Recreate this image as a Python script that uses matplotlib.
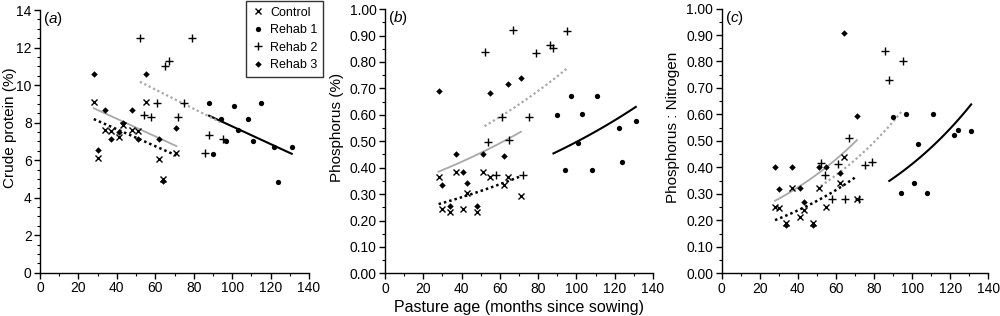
import numpy as np
import matplotlib
matplotlib.use("Agg")
import matplotlib.pyplot as plt
from matplotlib.lines import Line2D

plt.rcParams['font.family'] = ['Liberation Sans', 'DejaVu Sans']
plt.rcParams['mathtext.fontset'] = 'custom'
plt.rcParams['mathtext.rm'] = 'Liberation Sans'
plt.rcParams['mathtext.it'] = 'Liberation Sans:italic'

# ---------------- data ----------------
control_x = [28, 30, 34, 37, 41, 43, 48, 51, 55, 62, 64, 71]
control_cp = [9.08, 6.13, 7.63, 7.54, 7.22, 7.85, 7.63, 7.54, 9.08, 6.04, 5.0, 6.39]
control_p = [0.366, 0.243, 0.233, 0.382, 0.242, 0.303, 0.233, 0.382, 0.363, 0.334, 0.366, 0.294]
control_pn = [0.251, 0.245, 0.191, 0.321, 0.211, 0.239, 0.191, 0.321, 0.251, 0.342, 0.440, 0.280]

rehab1_x_cp = [88, 90, 94, 97, 101, 103, 108, 111, 115, 122, 124, 131]
rehab1_cp = [9.03, 6.34, 8.21, 7.01, 8.91, 7.63, 8.21, 7.01, 9.03, 6.71, 4.84, 6.71]
rehab1_x_p = [90, 94, 97, 101, 103, 108, 111, 122, 124, 131]
rehab1_p = [0.599, 0.393, 0.672, 0.494, 0.603, 0.393, 0.672, 0.552, 0.422, 0.577]
rehab1_pn = [0.589, 0.302, 0.600, 0.342, 0.490, 0.302, 0.600, 0.521, 0.540, 0.537]

rehab2_x = [52, 54, 58, 61, 65, 67, 72, 75, 79, 86, 88, 95]
rehab2_cp = [12.5, 8.42, 8.28, 9.03, 11.02, 11.27, 8.28, 9.03, 12.5, 6.36, 7.33, 7.13]
rehab2_p = [0.839, 0.498, 0.372, 0.593, 0.504, 0.923, 0.372, 0.593, 0.835, 0.864, 0.854, 0.917]
rehab2_pn = [0.417, 0.371, 0.280, 0.412, 0.280, 0.512, 0.280, 0.411, 0.421, 0.839, 0.729, 0.803]

rehab3_x = [28, 30, 34, 37, 41, 43, 48, 51, 55, 62, 64, 71]
rehab3_cp = [10.62, 6.53, 8.68, 7.15, 7.48, 7.98, 8.68, 7.15, 10.62, 7.15, 4.9, 7.71]
rehab3_p = [0.690, 0.334, 0.255, 0.451, 0.382, 0.343, 0.255, 0.451, 0.683, 0.444, 0.715, 0.738]
rehab3_pn = [0.402, 0.318, 0.182, 0.402, 0.321, 0.270, 0.182, 0.402, 0.402, 0.380, 0.909, 0.595]

# fitted trend lines: [x_start, x_end], [y_start, y_end]
trend_cp = {
    'Control': ([28, 71], [8.19, 6.25]),
    'Rehab 1': ([88, 131], [8.37, 6.34]),
    'Rehab 2': ([52, 95], [10.18, 7.97]),
    'Rehab 3': ([28, 71], [8.77, 6.75]),
}
trend_p = {
    'Control': ([28, 71], [0.262, 0.368]),
    'Rehab 1': ([88, 131], [0.454, 0.630]),
    'Rehab 2': ([52, 95], [0.557, 0.775]),
    'Rehab 3': ([28, 71], [0.385, 0.536]),
}
trend_pn = {
    'Control': ([28, 71], [0.201, 0.367]),
    'Rehab 1': ([88, 131], [0.349, 0.638]),
    'Rehab 2': ([52, 95], [0.330, 0.616]),
    'Rehab 3': ([28, 71], [0.274, 0.503]),
}

groups = ['Control', 'Rehab 1', 'Rehab 2', 'Rehab 3']
panel_letters = ['a', 'b', 'c']
ylabels = ['Crude protein (%)', 'Phosphorus (%)', 'Phosphorus : Nitrogen']
xlabel = 'Pasture age (months since sowing)'

# ---------------- styles ----------------
mstyle = {
    'Control': dict(marker='x', ms=5.0, mew=1.0, color='black'),
    'Rehab 1': dict(marker='o', ms=3.8, mew=0, color='black'),
    'Rehab 2': dict(marker='+', ms=5.6, mew=1.0, color='black'),
    'Rehab 3': dict(marker='D', ms=3.3, mew=0, color='black'),
}
lstyle = {
    'Control': dict(color='black', lw=1.8, ls=(0, (1, 1.2))),
    'Rehab 1': dict(color='black', lw=1.5, ls='-'),
    'Rehab 2': dict(color='#a8a8a8', lw=1.6, ls=(0, (1, 1.2))),
    'Rehab 3': dict(color='#a8a8a8', lw=1.3, ls='-'),
}

fig = plt.figure(figsize=(10, 3.16), dpi=100)
axes = [
    fig.add_axes([0.040, 0.137, 0.269, 0.831]),
    fig.add_axes([0.385, 0.135, 0.268, 0.836]),
    fig.add_axes([0.7217, 0.135, 0.2666, 0.838]),
]
ylabel_x = [-0.087, -0.153, -0.156]

panel_data = [
    {'Control': (control_x, control_cp), 'Rehab 1': (rehab1_x_cp, rehab1_cp),
     'Rehab 2': (rehab2_x, rehab2_cp), 'Rehab 3': (rehab3_x, rehab3_cp)},
    {'Control': (control_x, control_p), 'Rehab 1': (rehab1_x_p, rehab1_p),
     'Rehab 2': (rehab2_x, rehab2_p), 'Rehab 3': (rehab3_x, rehab3_p)},
    {'Control': (control_x, control_pn), 'Rehab 1': (rehab1_x_p, rehab1_pn),
     'Rehab 2': (rehab2_x, rehab2_pn), 'Rehab 3': (rehab3_x, rehab3_pn)},
]
trends = [trend_cp, trend_p, trend_pn]

for i, ax in enumerate(axes):
    for g in groups:
        xs, ys = trends[i][g]
        if i == 0:
            ax.plot(xs, ys, **lstyle[g], zorder=2)
        else:
            xx = np.linspace(xs[0], xs[1], 80)
            yy = ys[0] * (ys[1] / ys[0]) ** ((xx - xs[0]) / (xs[1] - xs[0]))
            ax.plot(xx, yy, **lstyle[g], zorder=2)
    for g in groups:
        x, y = panel_data[i][g]
        ax.plot(x, y, ls='none', zorder=3, **mstyle[g])

    ax.set_xlim(0, 140)
    ax.set_xticks(np.arange(0, 141, 20))
    ax.set_xticks(np.arange(0, 141, 10), minor=True)
    if i == 0:
        ax.set_ylim(0, 14)
        ax.set_yticks(np.arange(0, 14.1, 2))
        ax.set_yticks(np.arange(0, 14.1, 0.5), minor=True)
    else:
        ax.set_ylim(0, 1.0)
        ax.set_yticks(np.arange(0, 1.001, 0.1))
        ax.set_yticks(np.arange(0, 1.001, 0.05), minor=True)
        ax.set_yticklabels(['%.2f' % v for v in np.arange(0, 1.001, 0.1)])
    for s in ['top', 'right']:
        ax.spines[s].set_visible(False)
    for s in ['left', 'bottom']:
        ax.spines[s].set_linewidth(1.0)
    ax.tick_params(which='major', direction='out', length=4, width=1.0, labelsize=10, pad=2)
    ax.tick_params(which='minor', direction='out', length=2, width=0.8)
    ax.set_ylabel(ylabels[i], fontsize=11)
    ax.yaxis.set_label_coords(ylabel_x[i], 0.553)
    ax.text(0.012, 1.0, r'($\mathit{%s}$)' % panel_letters[i], transform=ax.transAxes,
            fontsize=11, va='top', ha='left')

axes[1].set_xlabel(xlabel, fontsize=11.5, labelpad=3)

handles = [Line2D([], [], ls='none', **mstyle[g]) for g in groups]
leg = fig.legend(handles, groups, loc='upper right', bbox_to_anchor=(0.323, 0.997),
                 bbox_transform=fig.transFigure, fontsize=9, frameon=True, fancybox=False,
                 edgecolor='black', handlelength=1.0, handletextpad=0.5, borderpad=0.45,
                 labelspacing=0.45, borderaxespad=0)
leg.get_frame().set_linewidth(1.0)

fig.savefig('out.png', dpi=100)
